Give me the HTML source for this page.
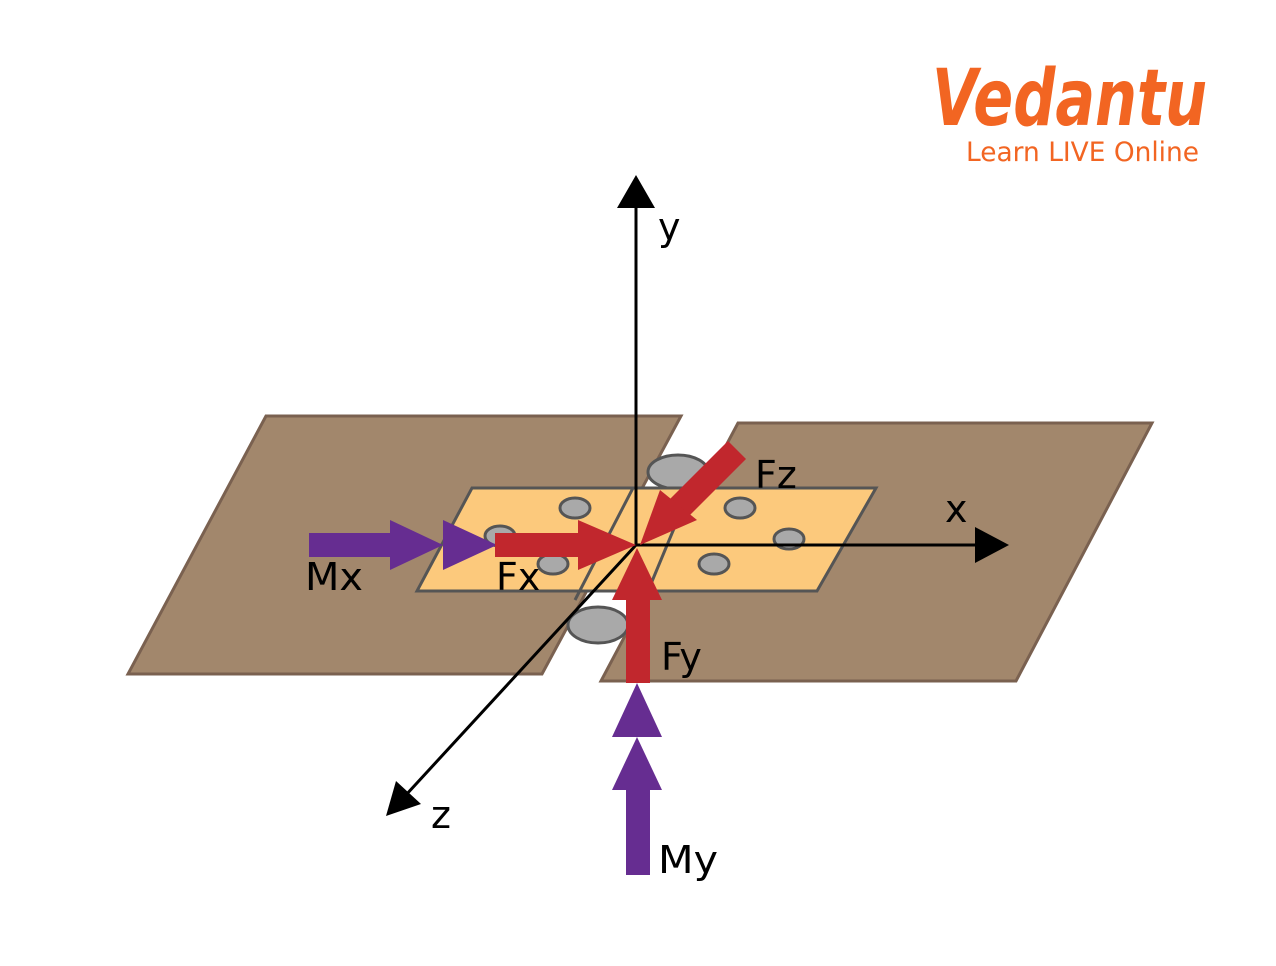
<!DOCTYPE html>
<html><head><style>body{margin:0;background:#fff}svg{display:block}</style></head>
<body>
<svg width="1276" height="966" viewBox="0 0 1276 966" xmlns="http://www.w3.org/2000/svg" font-family="Liberation Sans, DejaVu Sans, sans-serif">
<rect width="1276" height="966" fill="#fff"/>
<polygon points="266,416 681,416 542,674 128,674" fill="#a2876c" stroke="#7a6150" stroke-width="3"/>
<polygon points="738,423 1152,423 1016,681 601,681" fill="#a2876c" stroke="#7a6150" stroke-width="3"/>
<ellipse cx="678" cy="472" rx="30" ry="17" fill="#a9a9a9" stroke="#555" stroke-width="3"/>
<polygon points="472,488 876,488 817,591 417,591" fill="#fcc97c" stroke="#555" stroke-width="3"/>
<line x1="633" y1="488" x2="575" y2="600" stroke="#555" stroke-width="3"/>
<line x1="690" y1="490" x2="648" y2="591" stroke="#555" stroke-width="3"/>
<g fill="#a9a9a9" stroke="#555" stroke-width="3">
<ellipse cx="575" cy="508" rx="15" ry="10"/>
<ellipse cx="500" cy="536" rx="15" ry="10"/>
<ellipse cx="553" cy="564" rx="15" ry="10"/>
<ellipse cx="740" cy="508" rx="15" ry="10"/>
<ellipse cx="789" cy="539" rx="15" ry="10"/>
<ellipse cx="714" cy="564" rx="15" ry="10"/>
<ellipse cx="598" cy="625" rx="30" ry="18"/>
</g>
<g stroke="#000" stroke-width="3">
<line x1="636" y1="545" x2="636" y2="200"/>
<line x1="636" y1="545" x2="980" y2="545"/>
<line x1="636" y1="545" x2="405" y2="796"/>
</g>
<polygon points="636,175 617,208 655,208" fill="#000"/>
<polygon points="1009,545 975,527 975,563" fill="#000"/>
<polygon points="386,816 396,781 421,804" fill="#000"/>
<g fill="#662d91">
<rect x="309" y="533" width="84" height="24"/>
<polygon points="390,520 443,545 390,570"/>
<polygon points="443,520 497,545 443,570"/>
<rect x="626" y="790" width="24" height="85"/>
<polygon points="612,790 662,790 637,737"/>
<polygon points="612,737 662,737 637,683"/>
</g>
<g fill="#c1272d">
<rect x="495" y="533" width="86" height="24"/>
<polygon points="578,520 636,545 578,570"/>
<rect x="626" y="598" width="24" height="85"/>
<polygon points="612,600 662,600 637,548"/>
<polygon points="728,441 746,459 688,517 670,499"/>
<polygon points="640,545 660,490 697,520"/>
</g>
<g font-size="38" fill="#000" font-family="DejaVu Sans, Liberation Sans, sans-serif">
<text x="658" y="240">y</text>
<text x="945" y="522">x</text>
<text x="431" y="828">z</text>
<text x="305" y="590" textLength="58" lengthAdjust="spacingAndGlyphs">Mx</text>
<text x="496" y="590">Fx</text>
<text x="755" y="488">Fz</text>
<text x="661" y="670">Fy</text>
<text x="658" y="873" textLength="60" lengthAdjust="spacingAndGlyphs">My</text>
</g>
<text x="932" y="125" font-size="78" fill="#f26522" font-style="italic" font-weight="bold" font-family="DejaVu Sans, sans-serif" textLength="275" lengthAdjust="spacingAndGlyphs">Vedantu</text>
<text x="966" y="161" font-size="27" fill="#f26522" font-family="DejaVu Sans, sans-serif" textLength="233" lengthAdjust="spacingAndGlyphs">Learn LIVE Online</text>
</svg>
</body></html>
